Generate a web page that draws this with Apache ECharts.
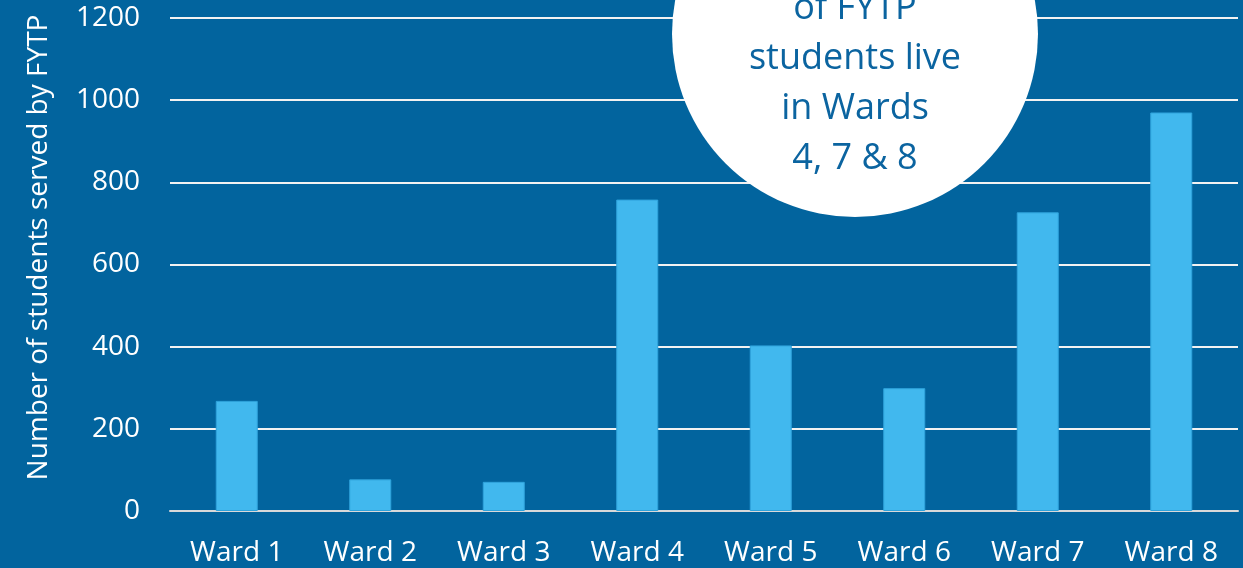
<!DOCTYPE html>
<html>
<head>
<meta charset="utf-8">
<script src="https://cdn.jsdelivr.net/npm/echarts@6/dist/echarts.min.js"></script>
<style>
	html, body { margin: 0; padding: 0; background: #02649e; }
	#chart { width: 1243px; height: 568px; }
</style>
</head>
<body>
<div id="chart"></div>
<script>
// chart data
const wards = ['Ward 1', 'Ward 2', 'Ward 3', 'Ward 4', 'Ward 5', 'Ward 6', 'Ward 7', 'Ward 8'];
const students = [268, 77, 71, 758, 403, 299, 727, 970];
const calloutLines = ['of FYTP', 'students live', 'in Wards', '4, 7 & 8'];

const font = 'Open Sans';
const chart = echarts.init(document.getElementById('chart'));

const option = {
	backgroundColor: '#02649e',
	animation: false,
	grid: { left: 170, right: 5, top: 18, bottom: 57 },
	xAxis: {
		type: 'category',
		data: wards,
		axisTick: { show: false },
		axisLine: { lineStyle: { color: '#d9d9d9', width: 2 } },
		axisLabel: { color: '#ffffff', fontSize: 28, fontFamily: font, margin: 28 },
	},
	yAxis: {
		type: 'value',
		min: 0,
		max: 1200,
		interval: 200,
		name: 'Number of students served by FYTP',
		nameLocation: 'middle',
		nameGap: 117,
		nameTextStyle: { color: '#ffffff', fontSize: 28, fontFamily: font, padding: [0, 0, 0, 34] },
		axisLabel: { color: '#ffffff', fontSize: 28, fontFamily: font, margin: 30, formatter: (v) => String(v) },
		splitLine: { lineStyle: { color: '#f2f2f2', width: 2 } },
	},
	series: [
		{
			type: 'bar',
			data: students,
			barWidth: 42,
			itemStyle: { color: '#41b8ee', borderColor: '#2fa3dc', borderWidth: 1 },
		},
	],
	graphic: [
		{
			type: 'circle',
			shape: { cx: 855, cy: 34, r: 183 },
			style: { fill: '#ffffff' },
			z: 10,
		},
		{
			type: 'text',
			x: 855,
			y: -16,
			z: 11,
			style: {
				text: calloutLines.join('\n'),
				fill: '#0b64a0',
				fontSize: 36,
				fontFamily: font,
				lineHeight: 50,
				align: 'center',
				verticalAlign: 'top',
			},
		},
	],
};
chart.setOption(option);
</script>
</body>
</html>
